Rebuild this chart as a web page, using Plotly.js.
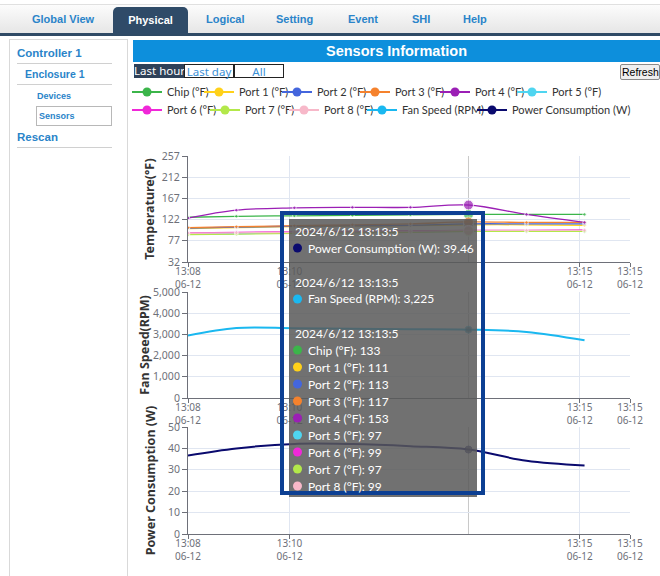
<!DOCTYPE html>
<html><head><meta charset="utf-8">
<script src="https://cdn.plot.ly/plotly-3.0.1.min.js"></script>
<style>
body{margin:0;width:660px;height:576px;overflow:hidden;background:#fff;position:relative;font-family:"Liberation Sans",Arial,sans-serif}
.a{position:absolute;white-space:nowrap}
#nav{left:0;top:4px;width:660px;height:28px;background:linear-gradient(#fcfcfc,#e6e6e6);border-bottom:3px solid #2f4a65;border-top:1px solid #e0e0e0}
.tab{top:13px;font-weight:bold;font-size:11px;color:#2a84c9}
#tabsel{left:113px;top:7px;width:75px;height:27px;background:#2f4b68;border-radius:5px 5px 0 0;color:#fff;font-weight:bold;font-size:11px;text-align:center;line-height:26px}
#side{left:9px;top:39px;width:117px;height:545px;border:1px solid #d9d9d9}
.sl{font-weight:bold;color:#2a84c9}
.hr{height:1px;background:#d0d0d0}
#hdr{left:133px;top:40px;width:527px;height:22px;background:#0d8fdc;color:#fff;font-weight:bold;font-size:14.5px;text-align:center;line-height:22px}
.btn{top:64px;height:14px;font-size:11.5px;line-height:13px;text-align:center;font-family:"Noto Sans",sans-serif;box-sizing:border-box}
#chart{position:absolute;left:100px;top:82px;width:560px;height:494px}
</style></head>
<body>
<div id="nav" class="a"></div>
<div class="a tab" style="left:32px">Global View</div>
<div id="tabsel" class="a">Physical</div>
<div class="a tab" style="left:206px">Logical</div>
<div class="a tab" style="left:276px">Setting</div>
<div class="a tab" style="left:348px">Event</div>
<div class="a tab" style="left:412px">SHI</div>
<div class="a tab" style="left:463px">Help</div>

<div id="side" class="a"></div>
<div class="a sl" style="left:17px;top:47px;font-size:11.5px">Controller 1</div>
<div class="a hr" style="left:17px;top:63px;width:95px"></div>
<div class="a sl" style="left:25px;top:68px;font-size:10.5px">Enclosure 1</div>
<div class="a hr" style="left:17px;top:84px;width:95px"></div>
<div class="a sl" style="left:37px;top:91px;font-size:9px">Devices</div>
<div class="a" style="left:36px;top:106px;width:76px;height:20px;border:1px solid #b8b8b8;box-sizing:border-box"></div>
<div class="a sl" style="left:39px;top:111px;font-size:9px">Sensors</div>
<div class="a sl" style="left:17px;top:131px;font-size:11.5px">Rescan</div>
<div class="a hr" style="left:17px;top:147px;width:95px"></div>

<div id="hdr" class="a">Sensors Information</div>
<div class="a btn" style="left:134px;width:50px;background:#2e4159;color:#fff">Last hour</div>
<div class="a btn" style="left:184px;width:50px;border:1px solid #222;color:#3a8fd6">Last day</div>
<div class="a btn" style="left:234px;width:50px;border:1px solid #222;color:#3a8fd6">All</div>
<div class="a btn" style="left:620px;top:64px;width:40px;height:16px;line-height:14px;background:#efefef;border:1px solid #8a8a8a;border-radius:2px;color:#000;font-family:'Liberation Sans',Arial,sans-serif;font-size:10.5px;text-align:left;padding-left:1px">Refresh</div>

<div id="chart"></div>
<script>
// ---------------- data ----------------
const times = ["2024-06-12 13:08:15","2024-06-12 13:09:05","2024-06-12 13:10:05","2024-06-12 13:11:05",
               "2024-06-12 13:12:05","2024-06-12 13:13:05","2024-06-12 13:14:05","2024-06-12 13:15:05"];
const tempNames = ["Chip (°F)","Port 1 (°F)","Port 2 (°F)","Port 3 (°F)","Port 4 (°F)",
                   "Port 5 (°F)","Port 6 (°F)","Port 7 (°F)","Port 8 (°F)"];
const chip  = [127,129,130,131,132,133,133,133];
const port1 = [103,105,107,108,109,111,111,110];
const port2 = [104,106,108,109,110,113,113,113];
const port3 = [105,107,109,111,113,117,116,116];
const port4 = [125,142,147,148,148,153,133,116];
const port5 = [91,92,94,95,96,97,97,97];
const port6 = [94,95,96,97,98,99,99,100];
const port7 = [90,91,93,94,95,97,97,97];
const port8 = [93,94,95,96,97,99,99,99];
const fanName = "Fan Speed (RPM)";
const fanSpeed = [2950,3300,3290,3265,3245,3225,3115,2720];
const powerName = "Power Consumption (W)";
const power = [36.7,40.0,42.1,42.0,41.0,39.46,34.2,32.0];
const xTickVals = ["2024-06-12 13:08:15","2024-06-12 13:10:00","2024-06-12 13:15:00","2024-06-12 13:15:52"];
const xTickText = ["13:08<br>06-12","13:10<br>06-12","13:15<br>06-12","13:15<br>06-12"];
const tempTicks = [32,77,122,167,212,257];
const fanTicks = [0,1000,2000,3000,4000,5000];
const powerTicks = [0,10,20,30,40,50];
const hoverIndex = 5;
const tooltipTime = "2024/6/12 13:13:5";
const yTitles = ["Temperature(°F)","Fan Speed(RPM)","Power Consumption (W)"];

// ---------------- styling ----------------
const temps = [chip,port1,port2,port3,port4,port5,port6,port7,port8];
const tempColors = ["#3bb54a","#ffd11a","#4466dd","#f5822d","#9b1fb5","#4fd5f0","#f028d8","#b3e84a","#f7b8c9"];
const fanColor = "#1ab8f0", powerColor = "#0a0a6e";
const xRange = [xTickVals[0], xTickVals[xTickVals.length-1]];
const FONT = "Noto Sans, sans-serif";
const FONT2 = "Lato, Noto Sans, sans-serif";
const DIVL = 100, DIVT = 82, W = 560, H = 494;
const PL = 188, PR = 630, PT = 156, PB = 534;

const data = [];
temps.forEach((vals,i)=>{
  data.push({x:times,y:vals,type:"scatter",mode:"lines+markers",xaxis:"x",yaxis:"y",showlegend:false,
    line:{color:tempColors[i],width:1.3,shape:"spline",smoothing:1},
    marker:{color:tempColors[i],size:vals.map((v,k)=>k===hoverIndex?10:3.5)}});
});
data.push({x:times,y:fanSpeed,type:"scatter",mode:"lines+markers",xaxis:"x2",yaxis:"y2",showlegend:false,
  line:{color:fanColor,width:2,shape:"spline",smoothing:1},
  marker:{color:"#1b6f8e",size:fanSpeed.map((v,k)=>k===hoverIndex?7:0)}});
data.push({x:times,y:power,type:"scatter",mode:"lines+markers",xaxis:"x3",yaxis:"y3",showlegend:false,
  line:{color:powerColor,width:2,shape:"spline",smoothing:1},
  marker:{color:"#2a2a5a",size:power.map((v,k)=>k===hoverIndex?7:0)}});

// legend-only entries (one legend per entry for ECharts-like placement)
const legNames = tempNames.concat([fanName,powerName]);
const legColors = tempColors.concat([fanColor,powerColor]);
const legTextX = [165,237,315,393,473,550,165,243,322,400,510];
const legRowY = [92,92,92,92,92,92,110,110,110,110,110];
const layoutLegends = {};
legNames.forEach((n,i)=>{
  const key = i===0?"legend":"legend"+(i+1);
  data.push({x:[null],y:[null],type:"scatter",mode:"lines+markers",name:n,xaxis:"x",yaxis:"y",
    legend:key,showlegend:true,line:{color:legColors[i],width:2},marker:{color:legColors[i],size:9}});
  layoutLegends[key] = {xref:"container",yref:"container",x:(legTextX[i]-38-DIVL)/W,
    y:1-(legRowY[i]-DIVT)/H,xanchor:"left",yanchor:"middle",orientation:"h",itemwidth:30,
    bgcolor:"rgba(0,0,0,0)",font:{family:FONT2,size:11,color:"#333"}};
});

const px = v => (v-PL)/(PR-PL), py = v => (PB-v)/(PB-PT);

// tooltip: background, colour dots and one annotation per line
const shapes = [];
["","2","3"].forEach(s=>{
  shapes.push({type:"line",layer:"below",xref:"x"+s,yref:"y"+s+" domain",x0:times[hoverIndex],x1:times[hoverIndex],
    y0:0,y1:1,line:{color:"#c8c8c8",width:1}});
});
shapes.push({type:"rect",xref:"paper",yref:"paper",x0:px(289),x1:px(477),y0:py(497),y1:py(219),
  line:{width:0},fillcolor:"rgba(88,88,88,0.85)"});

const tipLines = [[tooltipTime,null],[powerName+": "+power[hoverIndex],powerColor],null,
  [tooltipTime,null],[fanName+": "+fanSpeed[hoverIndex].toLocaleString("en-US"),fanColor],null,
  [tooltipTime,null]];
temps.forEach((vals,i)=>tipLines.push([tempNames[i]+": "+vals[hoverIndex],tempColors[i]]));
const annotations = [];
tipLines.forEach((ln,k)=>{
  if(!ln) return;
  const yc = 231+17*k;
  if(ln[1]){
    shapes.push({type:"circle",xref:"paper",yref:"paper",x0:px(293),x1:px(302),y0:py(yc+4.5),y1:py(yc-4.5),
      line:{width:0},fillcolor:ln[1]});
  }
  annotations.push({xref:"paper",yref:"paper",x:px(ln[1]?306:293),y:py(yc),xanchor:"left",yanchor:"middle",
    text:ln[0],showarrow:false,font:{family:FONT2,size:12,color:"#fff"}});
});
shapes.push({type:"rect",xref:"paper",yref:"paper",x0:px(282),x1:px(483),y0:py(493),y1:py(213),
  line:{color:"#0c3f93",width:4},fillcolor:"rgba(0,0,0,0)"});

function xa(anchor){
  return {anchor:anchor,domain:[0,1],type:"date",range:xRange,tickmode:"array",tickvals:xTickVals,ticktext:xTickText,
    showgrid:true,gridcolor:"#e0e6f1",showline:true,linecolor:"#6e7079",ticks:"outside",ticklen:4,tickcolor:"#6e7079",
    ticklabelstandoff:-4,
    tickfont:{family:FONT,size:10,color:"#6e7079"},zeroline:false,fixedrange:true};
}
function ya(dom,range,ticks,title,standoff,fmt){
  return {domain:dom,range:range,tickmode:"array",tickvals:ticks,tickformat:fmt||"",showgrid:true,gridcolor:"#e0e6f1",
    showline:true,linecolor:"#6e7079",ticks:"outside",ticklen:5,tickcolor:"#6e7079",zeroline:false,
    tickfont:{family:FONT,size:10.5,color:"#6e7079"},
    title:{text:title,font:{family:FONT,size:12.5,color:"#333",weight:"bold"},standoff:standoff}};
}

const layout = Object.assign({
  width:W,height:H,margin:{l:PL-DIVL,r:DIVL+W-PR,t:PT-DIVT,b:DIVT+H-PB},
  paper_bgcolor:"rgba(0,0,0,0)",plot_bgcolor:"#fff",
  font:{family:FONT},
  xaxis:xa("y"),xaxis2:xa("y2"),xaxis3:xa("y3"),
  yaxis:ya([py(262),1],[32,257],tempTicks,yTitles[0],4),
  yaxis2:ya([py(398),py(292)],[0,5000],fanTicks,yTitles[1],0,","),
  yaxis3:ya([0,py(427)],[0,50],powerTicks,yTitles[2],9),
  shapes:shapes,
  annotations:annotations
}, layoutLegends);

Plotly.newPlot("chart",data,layout,{displayModeBar:false,staticPlot:true});
</script>
</body></html>
